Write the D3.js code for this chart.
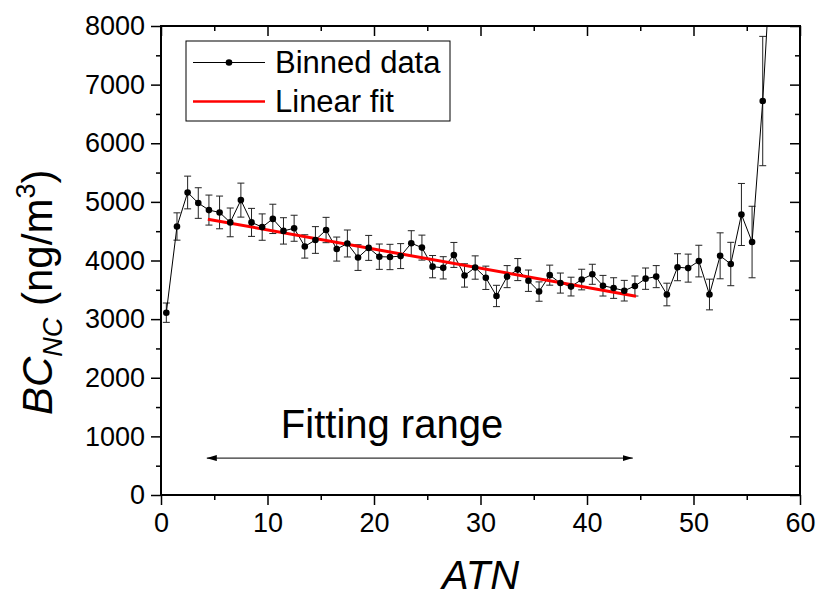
<!DOCTYPE html>
<html>
<head>
<meta charset="utf-8">
<script src="https://cdn.jsdelivr.net/npm/d3@7"></script>
<style>
  body { margin: 0; background: #fff; }
  text { font-family: Arial, "Liberation Sans", sans-serif; fill: #000; }
</style>
</head>
<body>
<div id="chart"></div>
<script>
// Binned data (ATN bin centres, BC values in ng/m3, error bars)
var atn = [0.5, 1.5, 2.5, 3.5, 4.5, 5.5, 6.5, 7.5, 8.5, 9.5,
    10.5, 11.5, 12.5, 13.5, 14.5, 15.5, 16.5, 17.5, 18.5, 19.5,
    20.5, 21.5, 22.5, 23.5, 24.5, 25.5, 26.5, 27.5, 28.5, 29.5,
    30.5, 31.5, 32.5, 33.5, 34.5, 35.5, 36.5, 37.5, 38.5, 39.5,
    40.5, 41.5, 42.5, 43.5, 44.5, 45.5, 46.5, 47.5, 48.5, 49.5,
    50.5, 51.5, 52.5, 53.5, 54.5, 55.5, 56.5, 57.5];
var bc = [3110, 4580, 5160, 4980, 4860, 4820, 4650, 5030, 4650, 4570,
    4710, 4505, 4550, 4240, 4350, 4520, 4195, 4290, 4050, 4215,
    4065, 4060, 4075, 4295, 4220, 3895, 3875, 4095, 3745, 3880,
    3705, 3395, 3725, 3845, 3655, 3470, 3750, 3615, 3555, 3675,
    3765, 3570, 3530, 3485, 3565, 3690, 3725, 3420, 3885, 3870,
    3990, 3420, 4080, 3940, 4785, 4315, 6720, 9900];
var bcErr = [165, 233, 279, 261, 256, 279, 245, 290, 239, 225,
    250, 225, 222, 199, 228, 216, 205, 230, 219, 213,
    216, 216, 213, 213, 213, 190, 190, 213, 199, 199,
    199, 182, 188, 188, 182, 165, 171, 171, 160, 176,
    171, 176, 176, 176, 171, 182, 188, 193, 230, 239,
    270, 262, 392, 370, 529, 610, 1103, 1200];

// Linear fit end points and fitting range arrow
var fitX = [4.4, 44.6];
var fitY = [4705, 3390];
var rangeX = [4.3, 44.3];
var rangeY = 630;

// Tick values
var xMajor = [0, 10, 20, 30, 40, 50, 60];
var xMinor = [5, 15, 25, 35, 45, 55];
var yMajor = [0, 1000, 2000, 3000, 4000, 5000, 6000, 7000, 8000];
var yMinor = [500, 1500, 2500, 3500, 4500, 5500, 6500, 7500];

var margin = { top: 26, right: 21, bottom: 104, left: 161 },
    width = 821 - margin.left - margin.right,
    height = 599 - margin.top - margin.bottom;

var svg = d3.select("#chart")
    .append("svg")
    .attr("width", 821)
    .attr("height", 599)
    .append("g")
    .attr("transform", "translate(" + margin.left + "," + margin.top + ")");

var x = d3.scaleLinear().domain([0, 60]).range([0, width]);
var y = d3.scaleLinear().domain([0, 8000]).range([height, 0]);

svg.append("clipPath").attr("id", "clip")
    .append("rect").attr("width", width).attr("height", height);

// Axes: bottom/left ticks outward, top/right inward
function styleAxis(g) {
    g.select(".domain").remove();
    g.selectAll("line").attr("stroke", "#000").attr("stroke-width", 1.5);
    g.selectAll("text")
        .style("font-size", "27px")
        .style("font-family", "Arial, 'Liberation Sans', sans-serif")
        .attr("fill", "#000");
}
svg.append("g").attr("transform", "translate(0," + height + ")")
    .call(d3.axisBottom(x).tickValues(xMajor).tickSize(10).tickPadding(8).tickFormat(d3.format("d")))
    .call(styleAxis);
svg.append("g").attr("transform", "translate(0," + height + ")")
    .call(d3.axisBottom(x).tickValues(xMinor).tickSize(5).tickFormat(""))
    .call(styleAxis);
svg.append("g")
    .call(d3.axisLeft(y).tickValues(yMajor).tickSize(10).tickPadding(6).tickFormat(d3.format("d")))
    .call(styleAxis);
svg.append("g")
    .call(d3.axisLeft(y).tickValues(yMinor).tickSize(5).tickFormat(""))
    .call(styleAxis);
svg.append("g")
    .call(d3.axisBottom(x).tickValues(xMajor).tickSize(10).tickFormat(""))
    .call(styleAxis);
svg.append("g")
    .call(d3.axisBottom(x).tickValues(xMinor).tickSize(5).tickFormat(""))
    .call(styleAxis);
svg.append("g").attr("transform", "translate(" + width + ",0)")
    .call(d3.axisLeft(y).tickValues(yMajor).tickSize(10).tickFormat(""))
    .call(styleAxis);
svg.append("g").attr("transform", "translate(" + width + ",0)")
    .call(d3.axisLeft(y).tickValues(yMinor).tickSize(5).tickFormat(""))
    .call(styleAxis);

var plot = svg.append("g").attr("clip-path", "url(#clip)");

// Error bars
var err = plot.append("g").attr("stroke", "#222").attr("stroke-width", 1);
atn.forEach(function (a, i) {
    var cx = x(a), lo = y(bc[i] - bcErr[i]), hi = y(bc[i] + bcErr[i]);
    err.append("line").attr("x1", cx).attr("x2", cx).attr("y1", lo).attr("y2", hi);
    err.append("line").attr("x1", cx - 3.5).attr("x2", cx + 3.5).attr("y1", lo).attr("y2", lo);
    err.append("line").attr("x1", cx - 3.5).attr("x2", cx + 3.5).attr("y1", hi).attr("y2", hi);
});

// Connecting line
var line = d3.line()
    .x(function (d, i) { return x(atn[i]); })
    .y(function (d) { return y(d); });
plot.append("path").datum(bc)
    .attr("d", line)
    .attr("fill", "none")
    .attr("stroke", "#000")
    .attr("stroke-width", 1);

// Linear fit
plot.append("line")
    .attr("x1", x(fitX[0])).attr("y1", y(fitY[0]))
    .attr("x2", x(fitX[1])).attr("y2", y(fitY[1]))
    .attr("stroke", "#ff0000")
    .attr("stroke-width", 3);

// Dots
plot.append("g").selectAll("circle")
    .data(bc)
    .enter()
    .append("circle")
    .attr("cx", function (d, i) { return x(atn[i]); })
    .attr("cy", function (d) { return y(d); })
    .attr("r", 3.3)
    .attr("fill", "#000");

// Frame
svg.append("rect")
    .attr("width", width).attr("height", height)
    .attr("fill", "none").attr("stroke", "#000").attr("stroke-width", 2);

// Fitting range arrow
var defs = svg.append("defs");
defs.append("marker").attr("id", "arrow")
    .attr("viewBox", "0 0 10 6").attr("refX", 10).attr("refY", 3)
    .attr("markerWidth", 10).attr("markerHeight", 6)
    .attr("markerUnits", "userSpaceOnUse")
    .attr("orient", "auto-start-reverse")
    .append("path").attr("d", "M0,0 L10,3 L0,6 Z").attr("fill", "#000");
svg.append("line")
    .attr("x1", x(rangeX[0])).attr("x2", x(rangeX[1]))
    .attr("y1", y(rangeY)).attr("y2", y(rangeY))
    .attr("stroke", "#333").attr("stroke-width", 1.2)
    .attr("marker-start", "url(#arrow)")
    .attr("marker-end", "url(#arrow)");
svg.append("text")
    .attr("x", 392 - margin.left)
    .attr("y", 437.7 - margin.top)
    .attr("text-anchor", "middle")
    .style("font-size", "40px")
    .text("Fitting range");

// Legend
var legend = svg.append("g").attr("transform", "translate(" + (186 - margin.left) + "," + (41 - margin.top) + ")");
legend.append("rect").attr("width", 264).attr("height", 80)
    .attr("fill", "#fff").attr("stroke", "#000").attr("stroke-width", 1);
legend.append("line").attr("x1", 7).attr("x2", 79).attr("y1", 21.5).attr("y2", 21.5)
    .attr("stroke", "#000").attr("stroke-width", 1);
legend.append("circle").attr("cx", 43).attr("cy", 21.5).attr("r", 3.3).attr("fill", "#000");
legend.append("line").attr("x1", 7).attr("x2", 79).attr("y1", 60.5).attr("y2", 60.5)
    .attr("stroke", "#ff0000").attr("stroke-width", 2.5);
legend.append("text").attr("x", 89).attr("y", 32).style("font-size", "31px").text("Binned data");
legend.append("text").attr("x", 89).attr("y", 71).style("font-size", "31px").text("Linear fit");

// Axis titles
svg.append("text")
    .attr("x", x(30))
    .attr("y", 589 - margin.top)
    .attr("text-anchor", "middle")
    .style("font-size", "40px")
    .style("font-style", "italic")
    .text("ATN");

var yl = svg.append("text")
    .attr("transform", "translate(" + (52 - margin.left) + "," + (415 - margin.top) + ") rotate(-90)")
    .style("font-size", "42px");
yl.append("tspan").style("font-style", "italic").text("BC");
yl.append("tspan").style("font-style", "italic").style("font-size", "27px").attr("dy", 10).text("NC");
yl.append("tspan").attr("dy", -10).text(" (ng/m");
yl.append("tspan").style("font-size", "27px").attr("dy", -17).text("3");
yl.append("tspan").attr("dy", 17).text(")");
</script>
</body>
</html>
